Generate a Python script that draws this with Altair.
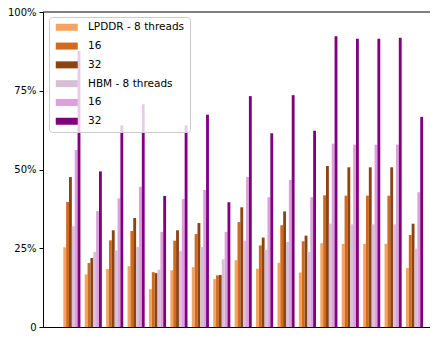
import altair as alt
import pandas as pd

groups = [str(i) for i in range(1, 18)]
series_keys = ["L8", "L16", "L32", "H8", "H16", "H32"]
series_labels = ["LPDDR - 8 threads", "16", "32", "HBM - 8 threads", "16", "32"]
series_colors = ["#F4A460", "#D2691E", "#8B4513", "#D8BFD8", "#DDA0DD", "#800080"]

lpddr_8 = [25.3, 16.7, 18.4, 19.3, 12.0, 18.0, 19.0, 15.2, 21.2, 18.5, 20.4, 17.3, 26.6, 26.4, 26.4, 26.4, 18.7]
lpddr_16 = [39.7, 20.3, 27.5, 30.5, 17.4, 27.4, 29.5, 16.4, 33.3, 25.9, 32.3, 27.2, 41.8, 41.7, 41.7, 41.7, 29.2]
lpddr_32 = [47.6, 21.9, 30.7, 34.6, 17.1, 30.7, 33.0, 16.5, 38.0, 28.4, 36.7, 29.0, 51.1, 50.7, 50.7, 50.7, 32.8]
hbm_8 = [32.0, 23.8, 24.3, 25.4, 18.2, 24.1, 25.4, 21.5, 27.4, 24.5, 27.0, 23.8, 32.8, 32.6, 32.6, 32.6, 24.9]
hbm_16 = [56.2, 36.8, 40.8, 44.5, 30.2, 40.6, 43.5, 30.2, 47.6, 41.2, 46.7, 41.2, 58.2, 57.9, 57.9, 57.9, 42.8]
hbm_32 = [87.7, 49.4, 64.0, 70.7, 41.6, 64.0, 67.4, 39.6, 73.3, 61.5, 73.6, 62.3, 92.3, 91.5, 91.5, 91.8, 66.7]

y_ticks = [0, 25, 50, 75, 100]

series_values = [lpddr_8, lpddr_16, lpddr_32, hbm_8, hbm_16, hbm_32]
rows = []
for key, vals in zip(series_keys, series_values):
    for g, v in zip(groups, vals):
        rows.append({"group": g, "series": key, "value": v})
df = pd.DataFrame(rows)

label_expr = ""
for k, lab in zip(series_keys, series_labels):
    label_expr += f"datum.label == '{k}' ? '{lab}' : "
label_expr += "datum.label"

font = "DejaVu Sans"

bars = alt.Chart(df).mark_bar().encode(
    x=alt.X("group:N", sort=groups,
            scale=alt.Scale(paddingInner=0.2, paddingOuter=0.635, align=0.746, round=False),
            axis=alt.Axis(labels=False, ticks=False, title=None, domainColor="black")),
    xOffset=alt.XOffset("series:N", sort=series_keys,
                        scale=alt.Scale(paddingInner=0, paddingOuter=0, round=False)),
    y=alt.Y("value:Q", scale=alt.Scale(domain=[0, 100], nice=False),
            axis=alt.Axis(values=y_ticks, grid=False, title=None,
                          labelExpr="datum.value == 0 ? '0' : datum.value + '%'",
                          labelFont=font, labelFontSize=10, labelColor="black",
                          tickColor="black", tickSize=4, labelPadding=3,
                          domainColor="black")),
    color=alt.Color("series:N", sort=series_keys,
                    scale=alt.Scale(domain=series_keys, range=series_colors),
                    legend=alt.Legend(
                        title=None, orient="none", legendX=6, legendY=5,
                        labelExpr=label_expr,
                        symbolType="M-1,-1H5.29V1H-1Z", symbolSize=49,
                        symbolStrokeWidth=0, symbolOpacity=1,
                        labelOffset=23.5, labelFont=font, labelFontSize=10.5,
                        labelColor="black", rowPadding=7.8,
                        fillColor="rgba(255,255,255,0.8)", strokeColor="#cccccc",
                        cornerRadius=3, padding=5)),
)

top_spine = alt.Chart(pd.DataFrame({"top": [100]})).mark_rule(color="black", strokeWidth=1).encode(
    y=alt.Y("top:Q")
)

chart = alt.layer(bars, top_spine).properties(
    width=387, height=315,
    autosize=alt.AutoSizeParams(type="none"),
    padding={"left": 35, "top": 4, "right": 0, "bottom": 5},
).configure_view(stroke=None)

chart.save("out.html", embed_options={"renderer": "svg", "actions": False})
